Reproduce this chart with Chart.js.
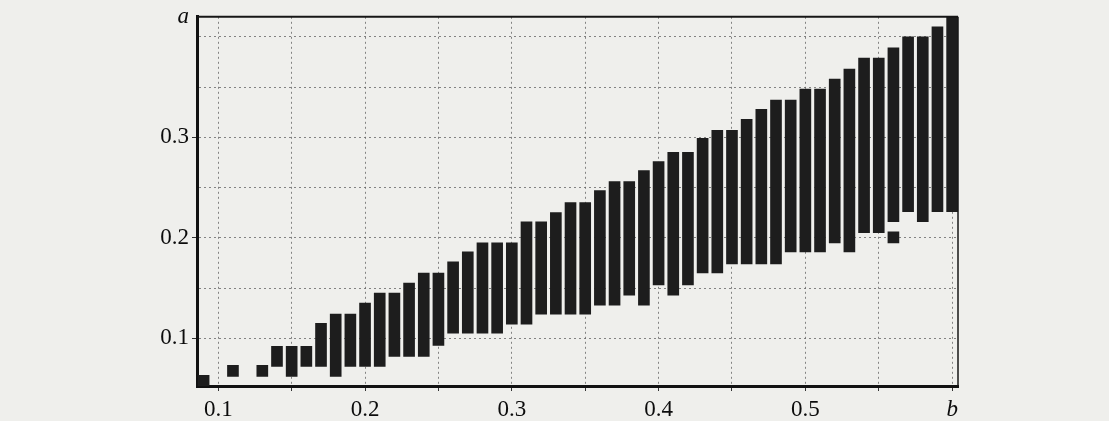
<!DOCTYPE html>
<html>
<head>
<meta charset="utf-8">
<script src="https://cdn.jsdelivr.net/npm/chart.js@4/dist/chart.umd.min.js"></script>
<style>
  html, body { margin: 0; padding: 0; background: #efefec; }
  #wrap { position: relative; width: 1109px; height: 421px; }
</style>
</head>
<body>
<div id="wrap"><canvas id="chart"></canvas></div>
<script>
// Parameter b of each interval
const bValues = [0.09, 0.11, 0.13, 0.14, 0.15, 0.16, 0.17, 0.18, 0.19, 0.20,
                 0.21, 0.22, 0.23, 0.24, 0.25, 0.26, 0.27, 0.28, 0.29, 0.30,
                 0.31, 0.32, 0.33, 0.34, 0.35, 0.36, 0.37, 0.38, 0.39, 0.40,
                 0.41, 0.42, 0.43, 0.44, 0.45, 0.46, 0.47, 0.48, 0.49, 0.50,
                 0.51, 0.52, 0.53, 0.54, 0.55, 0.56, 0.57, 0.58, 0.59, 0.60];
// Lower and upper ends of the a-range for each b
const aLow  = [0.050, 0.062, 0.062, 0.072, 0.062, 0.072, 0.072, 0.062, 0.072, 0.072,
               0.072, 0.082, 0.082, 0.082, 0.093, 0.105, 0.105, 0.105, 0.105, 0.114,
               0.114, 0.124, 0.124, 0.124, 0.124, 0.133, 0.133, 0.143, 0.133, 0.153,
               0.143, 0.153, 0.165, 0.165, 0.174, 0.174, 0.174, 0.174, 0.186, 0.186,
               0.186, 0.195, 0.186, 0.205, 0.205, 0.216, 0.226, 0.216, 0.226, 0.226];
const aHigh = [0.063, 0.073, 0.073, 0.092, 0.092, 0.092, 0.115, 0.124, 0.124, 0.135,
               0.145, 0.145, 0.155, 0.165, 0.165, 0.176, 0.186, 0.195, 0.195, 0.195,
               0.216, 0.216, 0.225, 0.235, 0.235, 0.247, 0.256, 0.256, 0.267, 0.276,
               0.285, 0.285, 0.299, 0.307, 0.307, 0.318, 0.328, 0.337, 0.337, 0.348,
               0.348, 0.358, 0.368, 0.379, 0.379, 0.389, 0.400, 0.400, 0.410, 0.420];
// Small detached piece below the b = 0.56 interval
const extraB = [0.56];
const extraLow = [0.195];
const extraHigh = [0.206];

const xTicks = [0.1, 0.15, 0.2, 0.25, 0.3, 0.35, 0.4, 0.45, 0.5, 0.55, 0.6];
const yTicks = [0.1, 0.15, 0.2, 0.25, 0.3, 0.35, 0.4, 0.42];

const serif = "'Liberation Serif', 'Times New Roman', serif";
const isTenth = v => Math.abs(v * 10 - Math.round(v * 10)) < 1e-6;

// top and right edges of the frame
const framePlugin = {
    id: 'frame',
    afterDraw: function (chart) {
        const ctx = chart.ctx;
        const a = chart.chartArea;
        ctx.save();
        ctx.strokeStyle = '#161616';
        ctx.lineWidth = 2;
        ctx.beginPath();
        ctx.moveTo(a.left, a.top);
        ctx.lineTo(a.right, a.top);
        ctx.stroke();
        ctx.lineWidth = 1.5;
        ctx.beginPath();
        ctx.moveTo(a.right, a.top);
        ctx.lineTo(a.right, a.bottom);
        ctx.stroke();
        ctx.restore();
    }
};

new Chart(document.getElementById('chart'), {
    type: 'bar',
    data: {
        datasets: [
            {
                data: bValues.map((b, i) => ({ x: b, y: [aLow[i], aHigh[i]] })),
                backgroundColor: '#1d1d1d',
                barThickness: 11,
                grouped: false
            },
            {
                data: extraB.map((b, i) => ({ x: b, y: [extraLow[i], extraHigh[i]] })),
                backgroundColor: '#1d1d1d',
                barThickness: 11,
                grouped: false
            }
        ]
    },
    options: {
        responsive: true,
        maintainAspectRatio: false,
        animation: false,
        layout: { padding: { top: 15, right: 151, left: 0, bottom: 0 } },
        plugins: {
            legend: { display: false },
            tooltip: { enabled: false }
        },
        scales: {
            x: {
                type: 'linear',
                offset: false,
                min: 0.0855,
                max: 0.604,
                afterBuildTicks: s => { s.ticks = xTicks.map(v => ({ value: v })); },
                afterFit: s => { s.height = 35; },
                ticks: {
                    autoSkip: false,
                    maxRotation: 0,
                    padding: 5,
                    color: '#0c0c0c',
                    font: ctx => (ctx.tick && Math.abs(ctx.tick.value - 0.6) < 1e-6)
                        ? { family: serif, size: 23, style: 'italic' }
                        : { family: serif, size: 23 },
                    callback: v => Math.abs(v - 0.6) < 1e-6 ? 'b' : (isTenth(v) ? v.toFixed(1) : '')
                },
                grid: {
                    offset: false,
                    color: 'rgba(95, 95, 95, 0.75)',
                    lineWidth: 1,
                    tickLength: 5,
                    tickColor: '#333'
                },
                border: { display: true, width: 3, color: '#111', dash: [2, 3] }
            },
            y: {
                min: 0.0525,
                max: 0.42,
                afterBuildTicks: s => { s.ticks = yTicks.map(v => ({ value: v })); },
                afterFit: s => { s.width = 197; },
                ticks: {
                    autoSkip: false,
                    padding: 3,
                    color: '#0c0c0c',
                    font: ctx => (ctx.tick && ctx.tick.value > 0.41)
                        ? { family: serif, size: 23, style: 'italic' }
                        : { family: serif, size: 23 },
                    callback: v => v > 0.41 ? 'a' : ((isTenth(v) && v < 0.35) ? v.toFixed(1) : '')
                },
                grid: {
                    color: ctx => (ctx.tick && ctx.tick.value > 0.41) ? 'rgba(0,0,0,0)' : 'rgba(95, 95, 95, 0.75)',
                    lineWidth: 1,
                    tickLength: 5,
                    tickColor: ctx => (ctx.tick && isTenth(ctx.tick.value) && ctx.tick.value < 0.35) ? '#333' : 'rgba(0,0,0,0)'
                },
                border: { display: true, width: 3, color: '#111', dash: [2, 3] }
            }
        }
    },
    plugins: [framePlugin]
});
</script>
</body>
</html>
